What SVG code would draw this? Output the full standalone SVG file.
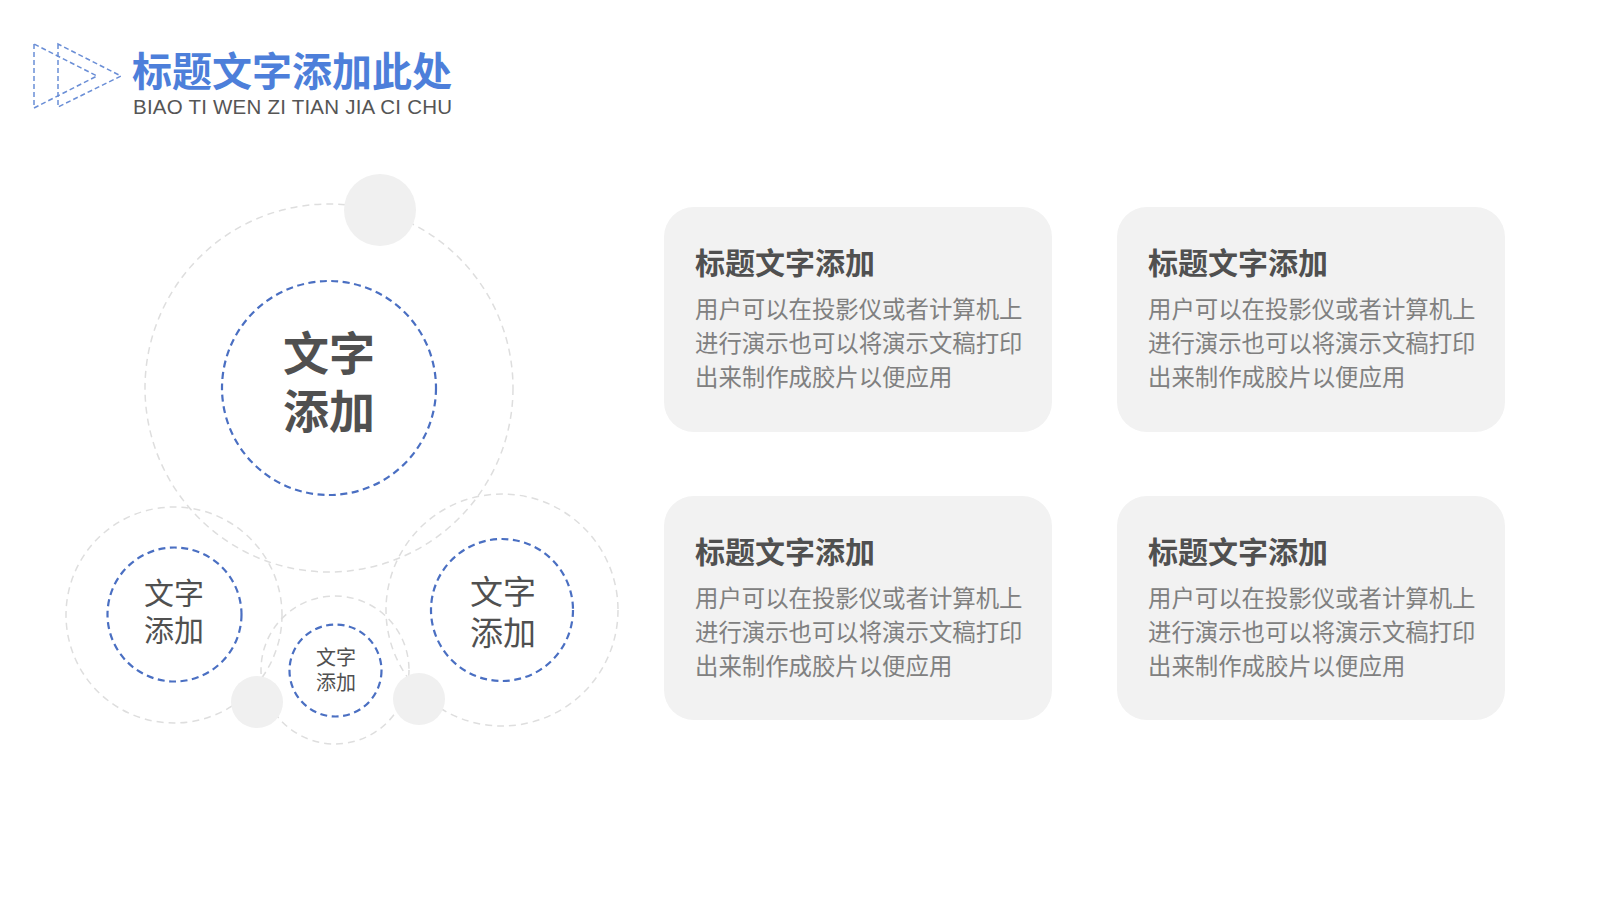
<svg xmlns="http://www.w3.org/2000/svg" width="1600" height="900" viewBox="0 0 1600 900">
<style>
.cjk{font-family:"Noto Sans CJK SC","Microsoft YaHei",sans-serif}
.tri{fill:none;stroke:#6A8ED6;stroke-width:1.5;stroke-dasharray:5 3}
.ring{fill:none;stroke:#DEDEDE;stroke-width:1.5;stroke-dasharray:7 5}
.blue{fill:none;stroke:#4A6FC2;stroke-width:2.2;stroke-dasharray:7 4.5}
.dot{fill:#F0F0F0}
.card{fill:#F2F2F2}
.ctitle{font-size:30px;font-weight:bold;fill:#505050}
.cbody{font-size:23.4px;fill:#808080}
.ctext{fill:#505050;text-anchor:middle}
</style>
<rect width="1600" height="900" fill="#FFFFFF"/>
<g id="header">
<polygon class="tri" points="34,44 34,108 97,76"/>
<polygon class="tri" points="58,44 58,107 121,76"/>
<text class="cjk" x="132" y="86" font-size="40" font-weight="bold" fill="#4D7FDA">标题文字添加此处</text>
<text x="133" y="114" font-family="Liberation Sans, Arial, sans-serif" font-size="20.5" fill="#555555" textLength="319" lengthAdjust="spacing">BIAO TI WEN ZI TIAN JIA CI CHU</text>
</g>
<g id="connectors"></g>
<g id="node-main">
<circle class="ring" cx="329" cy="388" r="184" stroke="#D6D6D6"/>
<circle class="dot" cx="380" cy="210" r="36"/>
<circle class="blue" cx="329" cy="388" r="107"/>
<text class="cjk ctext" x="329" y="370" font-size="46" font-weight="bold">文字</text>
<text class="cjk ctext" x="329" y="428" font-size="46" font-weight="bold">添加</text>
</g>
<g id="node-left">
<circle class="ring" cx="174" cy="615" r="108"/>
<circle class="blue" cx="174.5" cy="614.5" r="67"/>
<text class="cjk ctext" x="174" y="604" font-size="30">文字</text>
<text class="cjk ctext" x="174" y="641" font-size="30">添加</text>
</g>
<g id="node-right">
<circle class="ring" cx="502" cy="610" r="116"/>
<circle class="blue" cx="502" cy="610" r="71"/>
<text class="cjk ctext" x="503" y="604" font-size="33">文字</text>
<text class="cjk ctext" x="503" y="645" font-size="33">添加</text>
</g>
<g id="node-middle">
<circle class="ring" cx="335" cy="670" r="74"/>
<circle class="blue" cx="335.5" cy="670.5" r="46"/>
<text class="cjk ctext" x="336" y="665" font-size="20">文字</text>
<text class="cjk ctext" x="336" y="690" font-size="20">添加</text>
</g>
<g id="dots">
<circle class="dot" cx="257" cy="702" r="26"/>
<circle class="dot" cx="419" cy="699" r="26"/>
</g>
<g id="card-1">
<rect class="card" x="664" y="207" width="388" height="225" rx="30"/>
<text class="cjk ctitle" x="695" y="274">标题文字添加</text>
<text class="cjk cbody" x="695" y="318">用户可以在投影仪或者计算机上</text>
<text class="cjk cbody" x="695" y="352">进行演示也可以将演示文稿打印</text>
<text class="cjk cbody" x="695" y="386">出来制作成胶片以便应用</text>
</g>
<g id="card-2">
<rect class="card" x="1117" y="207" width="388" height="225" rx="30"/>
<text class="cjk ctitle" x="1148" y="274">标题文字添加</text>
<text class="cjk cbody" x="1148" y="318">用户可以在投影仪或者计算机上</text>
<text class="cjk cbody" x="1148" y="352">进行演示也可以将演示文稿打印</text>
<text class="cjk cbody" x="1148" y="386">出来制作成胶片以便应用</text>
</g>
<g id="card-3">
<rect class="card" x="664" y="496" width="388" height="224" rx="30"/>
<text class="cjk ctitle" x="695" y="563">标题文字添加</text>
<text class="cjk cbody" x="695" y="607">用户可以在投影仪或者计算机上</text>
<text class="cjk cbody" x="695" y="641">进行演示也可以将演示文稿打印</text>
<text class="cjk cbody" x="695" y="675">出来制作成胶片以便应用</text>
</g>
<g id="card-4">
<rect class="card" x="1117" y="496" width="388" height="224" rx="30"/>
<text class="cjk ctitle" x="1148" y="563">标题文字添加</text>
<text class="cjk cbody" x="1148" y="607">用户可以在投影仪或者计算机上</text>
<text class="cjk cbody" x="1148" y="641">进行演示也可以将演示文稿打印</text>
<text class="cjk cbody" x="1148" y="675">出来制作成胶片以便应用</text>
</g>
</svg>
